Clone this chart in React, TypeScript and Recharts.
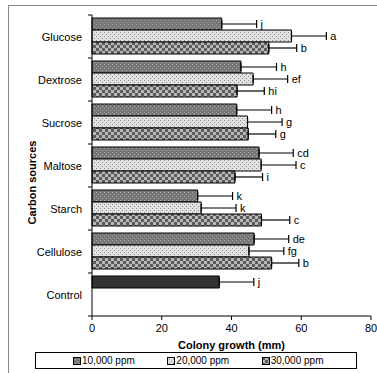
import React from "react"
import {
  BarChart,
  Bar,
  XAxis,
  YAxis,
  ErrorBar,
  LabelList,
  Cell,
  Legend,
} from "recharts"

const categories = ["Glucose", "Dextrose", "Sucrose", "Maltose", "Starch", "Cellulose", "Control"]

const ppm10 = [37.2, 42.7, 41.5, 47.9, 30.3, 46.5, 36.5]
const ppm10Err = [10, 10.2, 10, 9.8, 10, 9.9, 9.9]
const ppm10Letters = ["j", "h", "h", "cd", "k", "de", "j"]

const ppm20 = [57.2, 46.2, 44.6, 48.5, 31.3, 45, null]
const ppm20Err = [10, 9.9, 9.9, 10, 10, 10, null]
const ppm20Letters = ["a", "ef", "g", "c", "k", "fg", null]

const ppm30 = [50.7, 41.6, 44.8, 41, 48.6, 51.5, null]
const ppm30Err = [8, 7.8, 7.9, 7.9, 8.1, 7.8, null]
const ppm30Letters = ["b", "hi", "g", "i", "c", "b", null]

const xTicks = [0, 20, 40, 60, 80]

const series = [
  { key: "p10", name: "10,000 ppm", fill: "url(#pat10)" },
  { key: "p20", name: "20,000 ppm", fill: "url(#pat20)" },
  { key: "p30", name: "30,000 ppm", fill: "url(#pat30)" },
]

const data = categories.map((name, i) => ({
  name,
  p10: ppm10[i],
  p10Err: ppm10[i] == null ? null : [0, ppm10Err[i]],
  p10Lbl: ppm10Letters[i],
  p20: ppm20[i],
  p20Err: ppm20[i] == null ? null : [0, ppm20Err[i]],
  p20Lbl: ppm20Letters[i],
  p30: ppm30[i],
  p30Err: ppm30[i] == null ? null : [0, ppm30Err[i]],
  p30Lbl: ppm30Letters[i],
}))

const errs: Record<string, (number | null)[]> = { p10: ppm10Err, p20: ppm20Err, p30: ppm30Err }
const vals: Record<string, (number | null)[]> = { p10: ppm10, p20: ppm20, p30: ppm30 }

const FONT = "'Liberation Sans', Arial, sans-serif"
const TICK_SIZE = 4
const TICK_MARGIN = 6

function letterLabel(key: string) {
  return (props: any) => {
    const { x, y, width, height, value, index } = props
    const v = vals[key][index]
    const e = errs[key][index]
    if (value == null || v == null || e == null) return null
    const errPx = (width / v) * e
    return (
      <text
        x={x + width + errPx + 4}
        y={y + height / 2}
        dominantBaseline="central"
        fontSize={11}
        fontFamily={FONT}
        fill="#000"
      >
        {value}
      </text>
    )
  }
}

function CategoryTick(props: any) {
  const { x, y, payload, index, visibleTicksCount } = props
  const half = payload.offset || 0
  const lx = x + TICK_MARGIN
  return (
    <g>
      <line x1={lx} x2={lx + TICK_SIZE} y1={y - half} y2={y - half} stroke="#000" />
      {index === visibleTicksCount - 1 && (
        <line x1={lx} x2={lx + TICK_SIZE} y1={y + half} y2={y + half} stroke="#000" />
      )}
      <text
        x={x}
        y={y}
        textAnchor="end"
        dominantBaseline="central"
        fontSize={11}
        fontFamily={FONT}
        fill="#000"
      >
        {payload.value}
      </text>
    </g>
  )
}

function LegendBox() {
  return (
    <div
      style={{
        border: "1px solid #000",
        height: 17,
        display: "flex",
        alignItems: "center",
        paddingLeft: 37,
        fontFamily: FONT,
        fontSize: 10,
        color: "#000",
        boxSizing: "border-box",
      }}
    >
      {series.map((s) => (
        <span key={s.key} style={{ display: "flex", alignItems: "center", width: 95 }}>
          <svg width={8} height={8} style={{ marginRight: 1 }}>
            <rect x={0.5} y={0.5} width={7} height={7} fill={s.fill} stroke="#000" />
          </svg>
          {s.name}
        </span>
      ))}
    </div>
  )
}

export default function App() {
  return (
    <div
      style={{
        position: "absolute",
        left: 0,
        top: 0,
        width: 377,
        height: 373,
        overflow: "hidden",
        background: "#fff",
      }}
    >
      <div
        style={{
          position: "absolute",
          left: 8,
          top: 5,
          width: 420,
          height: 420,
          border: "1px solid #8a8a8a",
        }}
      />
      <BarChart
        width={377}
        height={373}
        data={data}
        layout="vertical"
        margin={{ top: 15, right: 6, left: 0, bottom: 3 }}
        barCategoryGap={3}
        barGap={0}
        style={{ position: "absolute", left: 0, top: 0 }}
      >
        <defs>
          <pattern id="pat10" width={4} height={4} patternUnits="userSpaceOnUse">
            <rect width={4} height={4} fill="#767676" />
            <rect x={0} y={0} width={1} height={1} fill="#a8a8a8" />
            <rect x={2} y={2} width={1} height={1} fill="#a8a8a8" />
          </pattern>
          <pattern id="pat20" width={4} height={4} patternUnits="userSpaceOnUse">
            <rect width={4} height={4} fill="#e2e2e2" />
            <rect x={0} y={0} width={1} height={1} fill="#8c8c8c" />
            <rect x={2} y={2} width={1} height={1} fill="#8c8c8c" />
          </pattern>
          <pattern id="pat30" width={6} height={6} patternUnits="userSpaceOnUse">
            <rect width={6} height={6} fill="#b8b8b8" />
            <rect x={0} y={0} width={3} height={3} fill="#5c5c5c" />
            <rect x={3} y={3} width={3} height={3} fill="#5c5c5c" />
          </pattern>
        </defs>
        <XAxis
          type="number"
          domain={[0, 80]}
          ticks={xTicks}
          interval={0}
          height={36}
          tickSize={4}
          tickMargin={4}
          axisLine={{ stroke: "#000" }}
          tickLine={{ stroke: "#000" }}
          tick={{ fontSize: 11, fill: "#000", fontFamily: FONT }}
          label={{
            content: (p: any) => {
              const vb = p.viewBox
              return (
                <text
                  x={vb.x + vb.width / 2}
                  y={vb.y + 33}
                  textAnchor="middle"
                  fontSize={11}
                  fontWeight="bold"
                  fontFamily={FONT}
                  fill="#000"
                >
                  Colony growth (mm)
                </text>
              )
            },
          }}
        />
        <YAxis
          type="category"
          dataKey="name"
          width={92}
          tickSize={TICK_SIZE}
          tickMargin={TICK_MARGIN}
          tickLine={false}
          axisLine={{ stroke: "#000" }}
          tick={<CategoryTick />}
          interval={0}
          label={{
            content: (p: any) => {
              const vb = p.viewBox
              const cx = vb.x + 32
              const cy = vb.y + vb.height / 2 + 17
              return (
                <text
                  x={cx}
                  y={cy}
                  transform={`rotate(-90 ${cx} ${cy})`}
                  textAnchor="middle"
                  dominantBaseline="central"
                  fontSize={11}
                  fontWeight="bold"
                  fontFamily={FONT}
                  fill="#000"
                >
                  Carbon sources
                </text>
              )
            },
          }}
        />
        <Legend
          verticalAlign="bottom"
          height={18}
          wrapperStyle={{ left: 35, width: 322 }}
          content={() => <LegendBox />}
        />
        {series.map((s) => (
          <Bar
            key={s.key}
            dataKey={s.key}
            name={s.name}
            fill={s.fill}
            stroke="#000"
            strokeWidth={1}
            isAnimationActive={false}
          >
            {s.key === "p10" &&
              data.map((d, i) => (
                <Cell key={i} fill={d.name === "Control" ? "#333333" : s.fill} />
              ))}
            <ErrorBar
              dataKey={`${s.key}Err`}
              direction="x"
              width={4}
              stroke="#000"
              strokeWidth={1.2}
            />
            <LabelList dataKey={`${s.key}Lbl`} content={letterLabel(s.key)} />
          </Bar>
        ))}
      </BarChart>
    </div>
  )
}
